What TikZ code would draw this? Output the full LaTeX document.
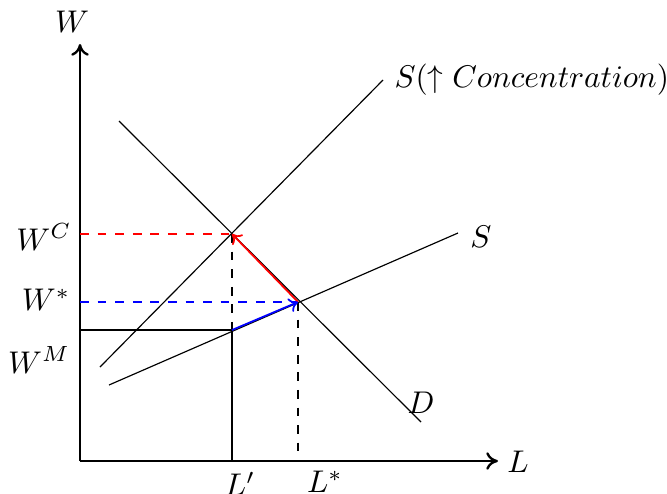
\documentclass[tikz,border=0pt]{standalone}
\usetikzlibrary{arrows.meta}
\begin{document}
\begin{tikzpicture}[x=0.012cm,y=-0.012cm,
  axis/.style={thick,-{To[length=4pt,width=6pt]}},
  curve/.style={thin},
  lab/.style={inner sep=0pt,font=\normalsize,scale=1.07},
  vec/.style={semithick,-{To[length=3pt,width=5pt]}}]
\useasboundingbox (0,0) rectangle (667,493);
% axes
\coordinate (O) at (80,461);
\coordinate (Ytop) at (80,44);
\coordinate (Xend) at (498,461);
\draw[axis] (O) -- (Ytop);
\draw[axis] (O) -- (Xend);
\node[lab] (W) at (72,22) {$W$};
\node[lab] (L) at (518,462) {$L$};
% curves
\coordinate (SCa) at (100,367);
\coordinate (SCb) at (383,80);
\draw[curve] (SCa) -- (SCb);
\node[lab,anchor=west] (SClab) at (394,80) {$S(\uparrow Concentration)$};
\coordinate (Da) at (119,121);
\coordinate (Db) at (421,422);
\draw[curve] (Da) -- (Db);
\node[lab] (Dlab) at (421,403) {$D$};
\coordinate (Sa) at (109,385);
\coordinate (Sb) at (458,233);
\draw[curve] (Sa) -- (Sb);
\node[lab] (Slab) at (481,237) {$S$};
% key points
\coordinate (C) at (232,234);
\coordinate (E) at (298,302);
\coordinate (M) at (232,330);
\coordinate (WC) at (80,234);
\coordinate (Ws) at (80,302);
\coordinate (WM) at (80,330);
\coordinate (Lp) at (232,461);
\coordinate (Ls) at (298,461);
% guide lines
\draw[red,semithick,dashed] (WC) -- (C);
\draw[thin,dashed] (C) -- (M);
\draw[thin] (M) -- (Lp);
\draw[thin] (WM) -- (M);
\draw[thin,dashed] (E) -- (Ls);
\draw[blue,semithick,dashed] (Ws) -- (E);
% movements
\draw[vec,red] (E) -- (C);
\draw[vec,blue] (M) -- (E);
% labels
\node[lab] (WClab) at (44,237) {$W^C$};
\node[lab] (Wslab) at (46,300) {$W^*$};
\node[lab] (WMlab) at (39,360) {$W^M$};
\node[lab] (Lplab) at (240,484) {$L'$};
\node[lab] (Lslab) at (325,482) {$L^*$};
\end{tikzpicture}
\end{document}
